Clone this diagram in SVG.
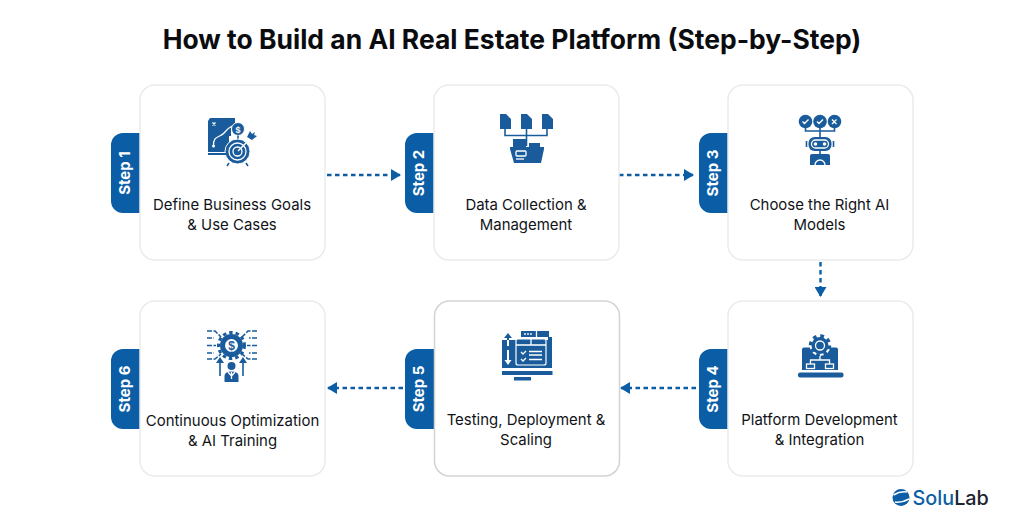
<svg xmlns="http://www.w3.org/2000/svg" width="1024" height="532" viewBox="0 0 1024 532">
<style>
.card{fill:#fff;stroke:#ebebeb;stroke-width:1.500}
.tab{fill:#0b5ea6}
.st{font:700 15px Inter,"Liberation Sans",sans-serif;fill:#fff;text-anchor:middle}
.lb{font:400 14.950px Inter,"Liberation Sans",sans-serif;fill:#111318;text-anchor:middle}
.c{fill:none;stroke:#0b5ea6;stroke-width:2.400;stroke-dasharray:4.500 3.500}
.i{fill:#1a5c9b}
.l{fill:none;stroke:#1a5c9b;stroke-width:1.600}
.w{fill:none;stroke:#fff;stroke-width:1.300}
.wf{fill:#fff}
</style>
<defs>
<marker id="ah" viewBox="0 0 10 12" refX="9" refY="6" markerWidth="11" markerHeight="12" markerUnits="userSpaceOnUse" orient="auto"><path d="M0 0L10 6L0 12Z" fill="#0b5ea6"/></marker>
<path id="tabshape" d="M29 0H12A12 12 0 0 0 0 12V68A12 12 0 0 0 12 80H29Z"/>
</defs>
<rect width="1024" height="532" fill="#fff"/>
<text x="512" y="49" text-anchor="middle" style="font:700 26.470px Inter,'Liberation Sans',sans-serif;fill:#0b0c10" id="title">How to Build an AI Real Estate Platform (Step-by-Step)</text>

<g id="connectors">
<path class="c" d="M327 175H400" marker-end="url(#ah)"/>
<path class="c" d="M619 175H693" marker-end="url(#ah)"/>
<path class="c" d="M820.500 262V296" marker-end="url(#ah)"/>
<path class="c" d="M696 388H621" marker-end="url(#ah)"/>
<path class="c" d="M403 388H328" marker-end="url(#ah)"/>
</g>

<g id="step1">
<use href="#tabshape" class="tab" x="111" y="133"/>
<rect class="card" x="140" y="85" width="185" height="175" rx="15"/>
<text class="st" transform="translate(130 173) rotate(-90)">Step 1</text>
<path class="i" d="M210 118H235V127H231V136H229V152H208V121Z"/>
<path class="w" d="M213.500 146C213 135 220 138 224 133C227 129 228 128 232 126"/>
<circle class="wf" cx="213.500" cy="146" r="1.500"/>
<path class="w" d="M212.500 122.500l3 3m0-3l-3 3"/>
<circle cx="238" cy="129" r="6.500" class="i" stroke="#fff"/>
<text x="238" y="132.500" text-anchor="middle" style="font:700 9px 'Liberation Sans',sans-serif;fill:#fff">$</text>
<path class="l" d="M238 135.500V139"/>
<circle cx="237.500" cy="151.500" r="12.500" class="i" stroke="#fff"/>
<circle cx="237.500" cy="151.500" r="8.500" class="w"/>
<circle cx="237.500" cy="151.500" r="4.500" class="w"/>
<path d="M229 163l-2 3M246 163l2 3" class="l"/>
<path d="M238 151L252 137" stroke="#fff" stroke-width="1.500"/>
<path class="i" d="M247 137l3-6 2 3 3-2-1 3 3 1-5 4Z"/>
<path class="i" d="M208 153H226V155H208Z"/>
</g>

<g id="step2">
<use href="#tabshape" class="tab" x="405" y="133"/>
<rect class="card" x="434" y="85" width="185" height="175" rx="15"/>
<text class="st" transform="translate(424 173) rotate(-90)">Step 2</text>
<path class="i" d="M500 114H506L511 119V129H500ZM521 114H527L532 119V129H521ZM542 114H548L553 119V129H542Z"/>
<path class="l" d="M505 129V135.500H547V129M526.500 129V146"/>
<rect class="i" x="513" y="139" width="13" height="8"/>
<rect class="i" x="529" y="143" width="11" height="4"/>
<path class="i" d="M510 147H544V149L541 163H514L510 149Z"/>
<rect class="w" x="516" y="151" width="10" height="5" rx="1"/>
<path class="w" d="M516 159H524"/>
</g>

<g id="step3">
<use href="#tabshape" class="tab" x="699" y="133"/>
<rect class="card" x="728" y="85" width="185" height="175" rx="15"/>
<text class="st" transform="translate(718 173) rotate(-90)">Step 3</text>
<circle class="i" cx="805.500" cy="121.500" r="6.800"/><circle class="i" cx="820" cy="121.500" r="6.800"/><circle class="i" cx="834.500" cy="121.500" r="6.800"/>
<path class="w" d="M802.500 121.500l2 2 4-4M817 121.500l2 2 4-4M832 119.500l4.500 4.500m0-4.500l-4.500 4.500"/>
<path class="l" d="M805.500 128V131H834.500V128M820 128V137"/>
<rect class="i" x="808.500" y="137" width="23" height="14" rx="6"/>
<rect class="w" x="811.500" y="140" width="17" height="8" rx="4"/>
<circle class="wf" cx="815.500" cy="144" r="1.800"/><circle class="wf" cx="824.500" cy="144" r="1.800"/>
<path class="l" d="M806.500 141V147M833.500 141V147M820 151V155"/>
<path class="i" d="M812 154H828Q830 154 830 156V165H810V156Q810 154 812 154Z"/>
<path class="w" d="M815 165A5 5 0 0 1 825 165"/>
</g>

<g id="step4">
<use href="#tabshape" class="tab" x="699" y="349"/>
<rect class="card" x="728" y="301" width="185" height="175" rx="15"/>
<text class="st" transform="translate(718 389) rotate(-90)">Step 4</text>
<path class="i" d="M804 347.500H836A2 2 0 0 1 838 349.500V370H802V349.500A2 2 0 0 1 804 347.500Z"/>
<circle cx="820" cy="345.500" r="10.500" fill="#fff"/>
<circle cx="820" cy="345.500" r="8.500" class="i"/>
<circle cx="820" cy="345.500" r="9.500" fill="none" stroke="#1a5c9b" stroke-width="3.500" stroke-dasharray="3.700 3.760"/>
<circle cx="820" cy="345.500" r="4.500" class="w" stroke-width="1.500"/>
<path class="w" d="M820 356V360M810.500 364V360H829.500V364"/>
<rect class="w" x="806.500" y="364" width="8" height="4.500"/><rect class="w" x="825.500" y="364" width="8" height="4.500"/>
<rect class="i" x="798" y="372.500" width="45.500" height="5" rx="2"/>
</g>

<g id="step5">
<use href="#tabshape" class="tab" x="405" y="349"/>
<rect class="card" x="434.500" y="301" width="185" height="175" rx="15" style="stroke:#d3d3d3"/>
<text class="st" transform="translate(424 389) rotate(-90)">Step 5</text>
<path class="i" d="M502 340H548V337H552V368H502Z"/>
<rect class="i" x="521" y="331" width="28" height="6"/>
<path class="w" d="M536.500 330v7"/>
<circle class="wf" cx="525" cy="334" r=".9"/><circle class="wf" cx="528" cy="334" r=".9"/><circle class="wf" cx="531" cy="334" r=".9"/>
<rect class="i" x="516" y="339" width="30" height="26" rx="2" stroke="#fff" stroke-width="1.200"/>
<path class="w" d="M516 345H546M531 339V345M521 352l2 2 3-3M521 359l2 2 3-3M529 351.500H542M529 355H542M529 359.500H542"/>
<path class="i" d="M508 333l-4 5H507V340H509V338H512Z"/>
<path class="wf" d="M507 340H509V346H507ZM508 365l-3.500-5H507V350H509V360H511.500Z"/>
<rect class="i" x="502" y="371" width="50.500" height="4"/>
<rect class="i" x="514" y="377" width="17" height="3.500"/>
</g>

<g id="step6">
<use href="#tabshape" class="tab" x="111" y="349"/>
<rect class="card" x="140" y="301" width="185" height="175" rx="15"/>
<text class="st" transform="translate(130 389) rotate(-90)">Step 6</text>
<circle cx="231.500" cy="345.500" r="11.500" class="i"/>
<circle cx="231.500" cy="345.500" r="13" fill="none" stroke="#1a5c9b" stroke-width="3" stroke-dasharray="3.500 3"/>
<circle cx="231.500" cy="345.500" r="6.500" class="wf"/>
<text x="231.500" y="349.500" text-anchor="middle" style="font:700 12px 'Liberation Sans',sans-serif;fill:#1a5c9b">$</text>
<path class="l" stroke-dasharray="5 1.500" d="M207 331H215L221 337M207 338H214M207 345.500H216M207 353H214M207 359H215L221 354M257 331H248L242 337M257 338H249M257 345.500H247M257 353H249M257 359H248L242 354"/>
<path class="l" d="M220 376V362M243 376V362"/>
<path class="i" d="M220 357l-4 6h8ZM243 357l-4 6h8Z"/>
<circle class="i" cx="231.500" cy="366" r="4"/>
<path class="i" d="M224.500 382V376Q224.500 371.500 231.500 371.500Q238.500 371.500 238.500 376V382Z"/>
<path class="w" d="M231.500 372V379M228 372L231.500 376L235 372"/>
</g>

<g id="labels">
<text class="lb" x="232" y="210">Define Business Goals</text><text class="lb" x="232" y="230">&amp; Use Cases</text>
<text class="lb" x="526" y="210">Data Collection &amp;</text><text class="lb" x="526" y="230">Management</text>
<text class="lb" x="819.500" y="210">Choose the Right AI</text><text class="lb" x="819.500" y="230">Models</text>
<text class="lb" x="819.500" y="425">Platform Development</text><text class="lb" x="819.500" y="445">&amp; Integration</text>
<text class="lb" x="526" y="425">Testing, Deployment &amp;</text><text class="lb" x="526" y="445">Scaling</text>
<text class="lb" x="232.500" y="426">Continuous Optimization</text><text class="lb" x="232.500" y="446">&amp; AI Training</text>
</g>

<g id="logo">
<circle cx="901" cy="497.500" r="8.500" fill="#0b5ea6"/>
<path d="M893.500 495Q900 491 907 492M895 502Q902 503 909 499" stroke="#fff" stroke-width="1.500" fill="none"/>
<text x="912.500" y="505" style="font:500 19.800px Inter,'Liberation Sans',sans-serif;fill:#0b5ea6">Solu<tspan fill="#1c2430">Lab</tspan></text>
</g>
</svg>
